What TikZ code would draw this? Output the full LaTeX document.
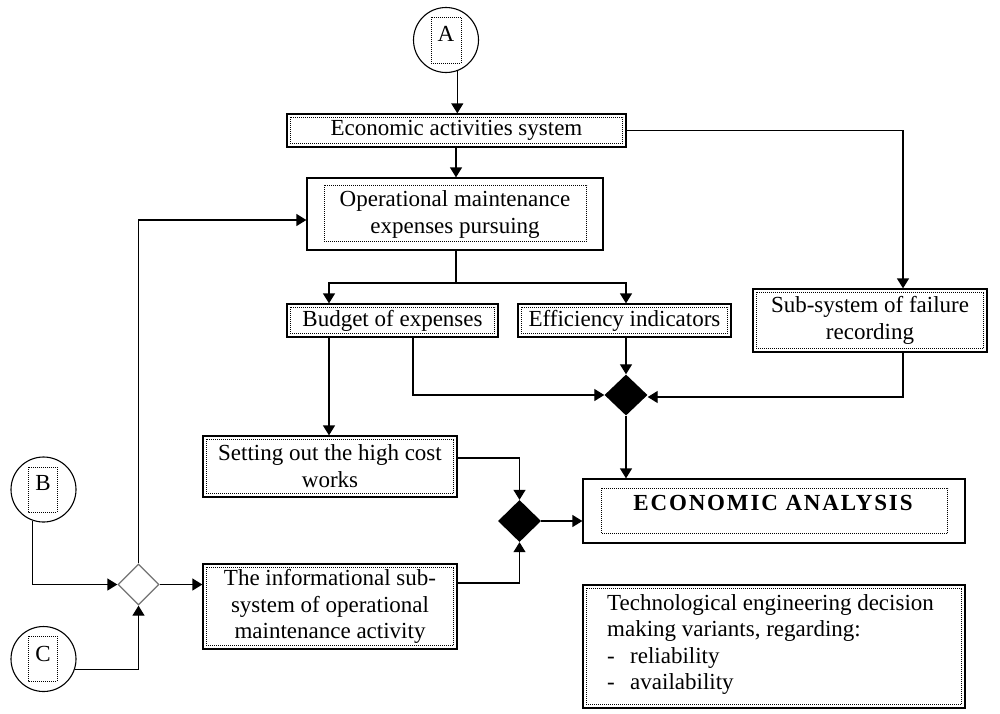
\documentclass[tikz,border=0pt]{standalone}
\usepackage{fontspec}
\setmainfont{Liberation Serif}
\usetikzlibrary{arrows.meta,shapes.geometric,calc}
\begin{document}
\begin{tikzpicture}[x=1pt,y=-1pt,
  txt/.style={font=\fontsize{23}{27}\selectfont, inner sep=0pt},
  box/.style={draw, line width=1.3pt, inner sep=0pt, align=center, txt},
  dots/.style={line width=0.9pt, dash pattern=on 1pt off 1pt},
  conn/.style={line width=1.3pt},
  arr/.style={conn, -{Triangle[length=10pt,width=12pt]}},
  circ/.style={circle, draw, line width=1.1pt, minimum size=65pt, inner sep=0pt},
  dia/.style={diamond, inner sep=0pt, aspect=1},
]
\useasboundingbox (0,0) rectangle (1000,713);

% connector circles
\node[circ] (A) at (446,40) {};
\node[circ] (B) at (43.5,489.5) {};
\node[circ] (C) at (43.5,659) {};
\draw[dots] ([shift={(-15,-23)}]A.center) rectangle ([shift={(15,23)}]A.center);
\draw[dots] ([shift={(-15.5,-22.5)}]B.center) rectangle ([shift={(13.5,22.5)}]B.center);
\draw[dots] ([shift={(-15.5,-23)}]C.center) rectangle ([shift={(13.5,22)}]C.center);
\node[txt] (Al) at (446,34) {A};
\node[txt] (Bl) at (43,483) {B};
\node[txt] (Cl) at (43,654) {C};

% boxes
\node[box, minimum width=339pt, minimum height=33pt] (eas) at (456.5,130.5) {Economic activities system};
\node[box, minimum width=296pt, minimum height=72pt] (ops) at (455,214) {Operational maintenance\\expenses pursuing};
\node[box, minimum width=211pt, minimum height=33pt] (bud) at (392.5,320.5) {Budget of expenses};
\node[box, minimum width=213pt, minimum height=33pt] (eff) at (624.5,320.5) {Efficiency indicators};
\node[box, minimum width=234pt, minimum height=63pt] (sub) at (870,320.5) {Sub-system of failure\\recording};
\node[box, minimum width=254pt, minimum height=61pt] (set) at (330,466.5) {Setting out the high cost\\works};
\node[box, minimum width=254pt, minimum height=85pt, font=\fontsize{23}{26.5}\selectfont] (info) at (330,606.5) {The informational sub-\\system of operational\\maintenance activity};
\node[box, minimum width=382pt, minimum height=64pt] (ea) at (774,511) {};
\node[txt, font=\fontsize{23}{27}\selectfont\bfseries\addfontfeature{LetterSpace=8}] (eal) at (773,503) {ECONOMIC ANALYSIS};
\node[box, minimum width=382pt, minimum height=123pt] (tech) at (774,646.5) {};
\node[txt, anchor=base west] (t1) at (607,610) {Technological engineering decision};
\node[txt, anchor=base west] (t2) at (607,636.5) {making variants, regarding:};
\node[txt, anchor=base west] (t3) at (607,663) {\makebox[23pt][l]{-}reliability};
\node[txt, anchor=base west] (t4) at (607,689.5) {\makebox[23pt][l]{-}availability};

% inner dotted frames
\foreach \n in {eas,bud,eff,sub,set,info,tech}
  \draw[dots] ([shift={(4,4)}]\n.north west) rectangle ([shift={(-4,-4)}]\n.south east);
\draw[dots] ([shift={(18,8)}]ops.north west) rectangle ([shift={(-17,-9)}]ops.south east);
\draw[dots] ([shift={(19,10)}]ea.north west) rectangle ([shift={(-18,-10)}]ea.south east);

% diamonds
\node[dia, fill=black, minimum width=43pt, minimum height=41pt] (d1) at (626,395) {};
\node[dia, fill=black, minimum width=43pt, minimum height=42pt] (d2) at (519.5,521) {};
\node[dia, draw=black!55, fill=white, line width=1.3pt, minimum width=41pt, minimum height=41pt] (wd) at (138.5,584.5) {};

% helper coordinates
\coordinate (xsub) at (903,0);
\coordinate (xb1) at (329,0);
\coordinate (xb2) at (413,0);
\coordinate (split) at (456,283);
\coordinate (yset) at (0,458);
\coordinate (yinfo) at (0,583);
\coordinate (yops) at (0,220);
\coordinate (ysub) at (0,397);

% connectors
\draw[arr] (A.-70) -- (A.-70 |- eas.north);
\draw[arr] (eas.south -| split) -- (ops.north -| split);
\draw[arr] (eas.east) -| (sub.north -| xsub);
\draw[conn] (ops.south -| split) -- (split);
\draw[arr] (split) -| (bud.north -| xb1);
\draw[arr] (split) -| (eff.north -| d1);
\draw[arr] (bud.south -| xb1) -- (set.north -| xb1);
\draw[arr] (bud.south -| xb2) |- (d1.west);
\draw[arr] (eff.south -| d1) -- (d1.north);
\draw[arr] (sub.south -| xsub) |- (d1.east |- ysub);
\draw[arr] (d1.south) -- (d1.south |- ea.north);
\draw[arr] (set.east |- yset) -| (d2.north);
\draw[arr] (info.east |- yinfo) -| (d2.south);
\draw[arr] (d2.east) -- (d2.east -| ea.west);
\draw[arr] (B.-109) |- (wd.west);
\draw[arr] (C.-18) -| (wd.south);
\draw[arr] (wd.east) -- (wd.east -| info.west);
\draw[arr] (wd.north) |- (ops.west |- yops);
\end{tikzpicture}
\end{document}
